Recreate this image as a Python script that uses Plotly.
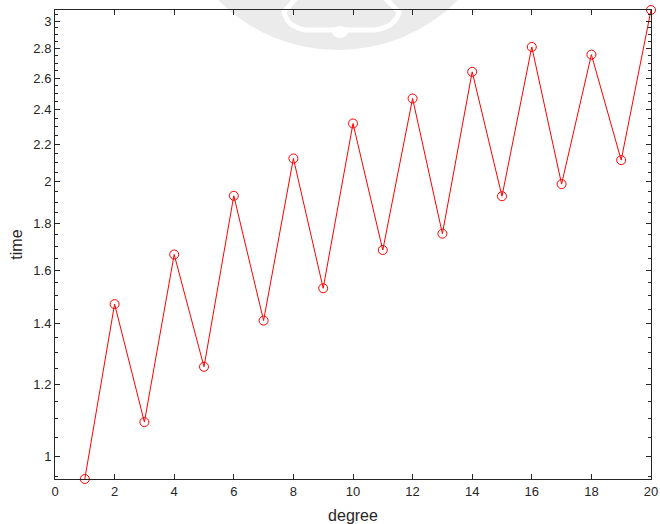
import numpy as np
import plotly.graph_objects as go

# polynomial degree vs. measured run time
degree = list(range(1, 21))
time = [0.9446, 1.469, 1.0906, 1.665, 1.254, 1.931, 1.409, 2.122, 1.529, 2.318,
        1.684, 2.469, 1.755, 2.641, 1.929, 2.812, 1.989, 2.758, 2.113, 3.087]

x_ticks = list(range(0, 21, 2))
y_ticks = [1, 1.2, 1.4, 1.6, 1.8, 2, 2.2, 2.4, 2.6, 2.8, 3]
y_tick_text = ["1", "1.2", "1.4", "1.6", "1.8", "2", "2.2", "2.4", "2.6", "2.8", "3"]
y_minor = [0.95, 1.05, 1.1, 1.15, 1.25, 1.3, 1.35, 1.45, 1.5, 1.55, 1.65, 1.7, 1.75,
           1.85, 1.9, 1.95, 2.05, 2.1, 2.15, 2.25, 2.3, 2.35, 2.45, 2.5, 2.55,
           2.65, 2.7, 2.75, 2.85, 2.9, 2.95, 3.05]

W, H = 660, 524
L, R, T, B = 55, 9, 10, 45
AX = "#262626"
FONT = "Liberation Sans, Arial, sans-serif"

fig = go.Figure()
fig.add_trace(go.Scatter(
    x=degree, y=time, mode="lines+markers",
    line=dict(color="#ff0000", width=1),
    marker=dict(symbol="circle-open", size=9, color="#ff0000", line=dict(width=1)),
    cliponaxis=False, showlegend=False,
))

# faint watermark emblem behind the axes (pixel -> paper coordinates)
def px(xp):
    return (xp - L) / (W - L - R)

def py(yp):
    return 1 - (yp - T) / (H - T - B)

cx, cy, r = 338, -119, 169
fig.add_shape(type="circle", xref="paper", yref="paper", layer="below",
              x0=px(cx - r), x1=px(cx + r), y0=py(cy + r), y1=py(cy - r),
              fillcolor="#ebebeb", line=dict(width=0))

pts = [(297, -3), (284, 12), (287, 27), (306, 30), (374, 30), (396, 27), (399, 12), (384, -3)]
P = [(px(a), py(b)) for a, b in pts]
bell = ("M {0[0]} {0[1]} L {1[0]} {1[1]} Q {2[0]} {2[1]} {3[0]} {3[1]} "
        "L {4[0]} {4[1]} Q {5[0]} {5[1]} {6[0]} {6[1]} L {7[0]} {7[1]}").format(*P)
fig.add_shape(type="path", xref="paper", yref="paper", layer="below",
              path=bell, line=dict(color="white", width=5))
fig.add_shape(type="circle", xref="paper", yref="paper", layer="below",
              x0=px(332), x1=px(348), y0=py(38), y1=py(26),
              fillcolor="white", line=dict(width=0))

fig.update_layout(
    width=W, height=H,
    margin=dict(l=L, r=R, t=T, b=B, autoexpand=False),
    paper_bgcolor="white", plot_bgcolor="rgba(0,0,0,0)",
    font=dict(family=FONT, size=13, color=AX),
    xaxis=dict(
        range=[0, 20], tickvals=x_ticks, ticks="inside", ticklen=5, tickwidth=1,
        tickcolor=AX, showline=True, linecolor=AX, linewidth=1, mirror="allticks",
        showgrid=False, zeroline=False, automargin=False,
        title=dict(text="degree", standoff=12),
        tickfont=dict(size=13, color=AX),
    ),
    yaxis=dict(
        type="log", range=[np.log10(min(time)), np.log10(max(time))],
        tickvals=y_ticks, ticktext=y_tick_text, ticks="inside", ticklen=5,
        tickwidth=1, tickcolor=AX, showline=True, linecolor=AX, linewidth=1,
        mirror="allticks", showgrid=False, zeroline=False, automargin=False,
        title=dict(text="time", standoff=6), tickfont=dict(size=13, color=AX),
        minor=dict(tickmode="array", tickvals=y_minor, ticks="inside", ticklen=3,
                   tickcolor=AX, showgrid=False),
    ),
)

fig.write_html("out.html")
